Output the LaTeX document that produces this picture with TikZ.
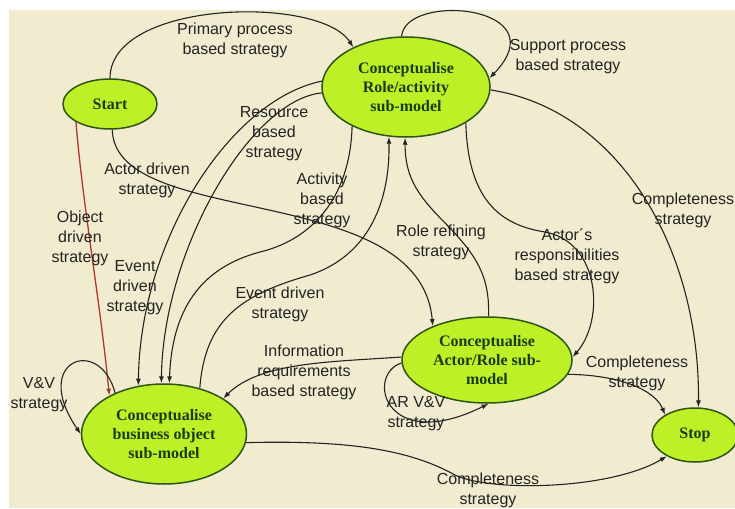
\documentclass[tikz,border=0pt]{standalone}
\usepackage{fontspec}
\setmainfont{Liberation Sans}
\newfontfamily\nodefont{Liberation Serif}
\usetikzlibrary{arrows.meta,shapes.geometric}
\definecolor{PaperBeige}{RGB}{241,236,207}
\definecolor{LimeFill}{RGB}{190,240,40}
\definecolor{DarkGreen}{RGB}{45,85,20}
\definecolor{NodeText}{RGB}{25,60,20}
\definecolor{InkGrey}{RGB}{35,35,35}
\definecolor{BrickRed}{RGB}{175,55,45}
\tikzset{
  phase/.style={ellipse,draw=DarkGreen,fill=LimeFill,line width=1.5pt,
    inner sep=0pt,align=center,text=NodeText,
    font=\nodefont\bfseries\fontsize{16}{19}\selectfont},
  stratlabel/.style={align=center,text=InkGrey,inner sep=0pt,
    font=\fontsize{16}{20}\selectfont},
  arrow/.style={-{Latex[length=7pt,width=5pt]},line width=1.1pt,InkGrey},
  redarrow/.style={arrow,BrickRed,line width=1.3pt}
}

\begin{document}
\begin{tikzpicture}[x=1pt,y=-1pt]
      \useasboundingbox (0,0) rectangle (735,508);
      \fill[PaperBeige] (9,10) rectangle (735,508);
      % the five phases
      \node[phase,minimum width=94pt,minimum height=50pt] (start) at (110,104) {Start};
      \node[phase,minimum width=168pt,minimum height=100pt] (role) at (406,87) {Conceptualise\\Role/activity\\sub-model};
      \node[phase,minimum width=165pt,minimum height=100pt] (object) at (164,434) {Conceptualise\\business object\\sub-model};
      \node[phase,minimum width=170pt,minimum height=86pt] (actor) at (487,360) {Conceptualise\\Actor/Role sub-\\model};
      \node[phase,minimum width=86pt,minimum height=54pt] (stop) at (695,435) {Stop};
      % strategies
      \draw[arrow] (start.north) .. controls (110,0) and (320,-5) .. (role.143);
      \draw[arrow] (role.95) .. controls (405,-8) and (560,5) .. (role.6);
      \draw[arrow] (start.-85) .. controls (115,230) and (420,180) .. (actor.148);
      \draw[redarrow] (start.-152) .. controls (82,200) and (100,300) .. (object.145);
      \draw[arrow] (role.176) .. controls (230,100) and (140,240) .. (object.118);
      \draw[arrow] (role.184) .. controls (250,100) and (163,250) .. (object.93);
      \draw[arrow] (role.-144) .. controls (350,200) and (310,240) .. (260,252)
        .. controls (200,268) and (172,310) .. (object.84);
      \draw[arrow] (object.52) .. controls (205,320) and (240,295) .. (310,275)
        .. controls (370,255) and (390,200) .. (role.-109);
      \draw[arrow] (actor.88) .. controls (490,275) and (475,255) .. (450,228)
        .. controls (420,198) and (405,180) .. (role.-91);
      \draw[arrow] (role.-31) .. controls (468,200) and (500,225) .. (545,232)
        .. controls (600,242) and (605,320) .. (actor.2);
      \draw[arrow] (role.-2) .. controls (620,110) and (700,250) .. (stop.83);
      \draw[arrow] (actor.178) .. controls (330,362) and (260,362) .. (object.31);
      \draw[arrow] (actor.182) .. controls (365,375) and (385,455) .. (actor.-88);
      \draw[arrow] (actor.-10) .. controls (620,375) and (655,390) .. (stop.146);
      \draw[arrow] (object.-6) .. controls (350,440) and (410,450) .. (455,475)
        .. controls (490,492) and (610,490) .. (stop.-143);
      \draw[arrow] (object.140) .. controls (100,335) and (30,360) .. (object.180);
      % labels
      \node[stratlabel] (l-primary) at (235,40) {Primary process\\based strategy};
      \node[stratlabel] (l-support) at (568,57) {Support process\\based strategy};
      \node[stratlabel] (l-actor) at (147,180) {Actor driven\\strategy};
      \node[stratlabel] (l-object) at (80,238) {Object\\driven\\strategy};
      \node[stratlabel] (l-resource) at (274,134) {Resource\\based\\strategy};
      \node[stratlabel] (l-activity) at (322,200) {Activity\\based\\strategy};
      \node[stratlabel] (l-event) at (135,288) {Event\\driven\\strategy};
      \node[stratlabel] (l-event2) at (280,304) {Event driven\\strategy};
      \node[stratlabel] (l-refine) at (441,242) {Role refining\\strategy};
      \node[stratlabel] (l-resp) at (567,256) {Actor´s\\responsibilities\\based strategy};
      \node[stratlabel] (l-complete) at (683,210) {Completeness\\strategy};
      \node[stratlabel] (l-info) at (304,372) {Information\\requirements\\based strategy};
      \node[stratlabel] (l-arvv) at (416,414) {AR V\&V\\strategy};
      \node[stratlabel] (l-complete2) at (637,373) {Completeness\\strategy};
      \node[stratlabel] (l-vv) at (39,395) {V\&V\\strategy};
      \node[stratlabel] (l-complete3) at (488,490) {Completeness\\strategy};
    \end{tikzpicture}
\end{document}
